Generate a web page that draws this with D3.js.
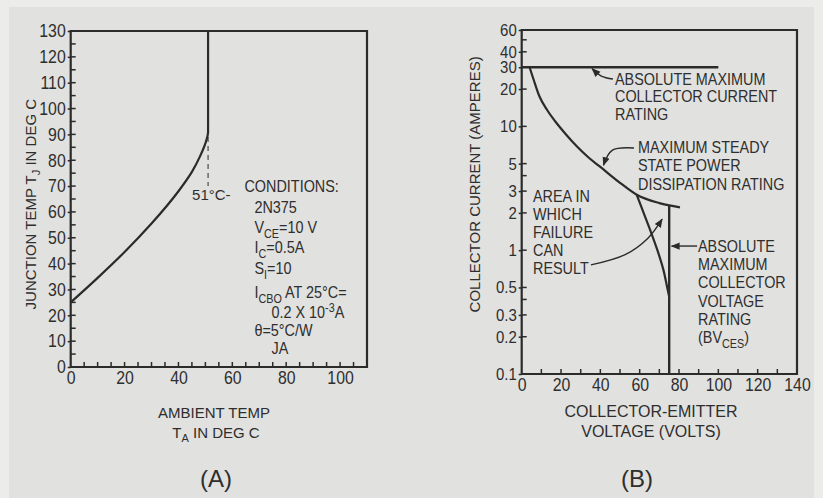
<!DOCTYPE html>
<html>
<head>
<meta charset="utf-8">
<script src="https://cdn.jsdelivr.net/npm/d3@7/dist/d3.min.js"></script>
<style>
  html, body { margin: 0; padding: 0; background: #ececea; }
  svg { display: block; }
  text { font-family: "Liberation Sans", Arial, sans-serif; fill: #2e2e2e; }
</style>
</head>
<body>
<svg id="chart" width="823" height="498"></svg>
<script>
// ---------- Panel A: junction temperature vs ambient temperature ----------
const ambientTicks = [0, 20, 40, 60, 80, 100];
const junctionTicks = [0, 10, 20, 30, 40, 50, 60, 70, 80, 90, 100, 110, 120, 130];
const ambientTemp = [0, 10, 20, 30, 40, 45, 48, 50, 51, 51];
const junctionTemp = [25, 34.5, 44.5, 55.5, 68, 75.5, 81.5, 86.5, 91, 130];
const runawayTemp = 51;           // marked ambient limit, deg C
const conditions = [
  [["CONDITIONS:"]],
  [["2N375"]],
  [["V"], ["CE", "sub"], ["=10 V"]],
  [["I"], ["C", "sub"], ["=0.5A"]],
  [["S"], ["I", "sub"], ["=10"]],
  [["I"], ["CBO", "sub"], [" AT 25°C="]],
  [["0.2 X 10"], ["-3", "sup"], ["A"]],
  [["θ=5°C/W"]],
  [["JA"]]
];

// ---------- Panel B: safe operating area ----------
const voltageTicks = [0, 20, 40, 60, 80, 100, 120, 140];
const currentTicks = [0.1, 0.2, 0.3, 0.5, 1, 2, 3, 5, 10, 20, 30, 40, 60];
const currentMinorTicks = [0.4, 4, 50];
const currentTickLabels = ["0.1", "0.2", "0.3", "0.5", "1", "2", "3", "5", "10", "20", "30", "40", "60"];
const maxCurrent = 30;            // A, absolute maximum collector current
const maxCurrentSpan = [0, 100];  // V, extent of the current-rating line
const powerVolts = [4, 6, 9, 13, 17, 22, 28, 34, 40, 50, 58.5, 70, 80.5];
const powerAmps = [30, 24, 17.5, 13.5, 11, 8.8, 6.9, 5.6, 4.7, 3.5, 2.8, 2.4, 2.22];
const failureVolts = [58.5, 62, 65.3, 69, 72, 74, 75];
const failureAmps = [2.8, 2.0, 1.46, 1.0, 0.7, 0.5, 0.42];
const bvCes = 75;                 // V, absolute maximum collector voltage
const bvCesTopAmps = 2.28;

const svg = d3.select("#chart");
const ink = "#2b2b2b";
const sxTick = 0.88;              // condensed tick lettering

// paper
svg.append("rect").attr("x", 0).attr("y", 0).attr("width", 823).attr("height", 498).attr("fill", "#ececea");
svg.append("rect").attr("x", 9).attr("y", 7).attr("width", 805).attr("height", 491).attr("fill", "#e1e1df");

// arrowhead marker
svg.append("defs").append("marker")
  .attr("id", "head").attr("viewBox", "0 0 10 10").attr("refX", 9).attr("refY", 5)
  .attr("markerWidth", 9).attr("markerHeight", 9).attr("markerUnits", "userSpaceOnUse")
  .attr("orient", "auto")
  .append("path").attr("d", "M0,1 L10,5 L0,9 Z").attr("fill", ink);

// multi-line text block with sub/superscript runs
function textBlock(parent, x, y, lines, opts) {
  const o = Object.assign({ size: 16, lead: 18, sx: 0.9, indents: [] }, opts || {});
  const g = parent.append("g").attr("transform", `translate(${x},${y}) scale(${o.sx},1)`);
  lines.forEach((runs, i) => {
    const t = g.append("text").attr("x", (o.indents[i] || 0) / o.sx)
      .attr("y", (o.baselines ? o.baselines[i] : i * o.lead)).attr("font-size", o.size);
    let shift = 0;
    runs.forEach(r => {
      const kind = r[1];
      const target = kind === "sub" ? o.size * 0.3 : kind === "sup" ? -o.size * 0.4 : 0;
      t.append("tspan").text(r[0]).attr("dy", target - shift)
        .attr("font-size", kind ? o.size * 0.75 : o.size);
      shift = target;
    });
  });
  return g;
}

// condense the labels of a left axis (anchor end) or bottom axis (anchor middle)
function condenseLeft(g, size) {
  g.selectAll("text").each(function () {
    const t = d3.select(this);
    const x = +t.attr("x");
    t.attr("x", x / sxTick).attr("transform", `scale(${sxTick},1)`)
      .attr("font-size", size).attr("fill", "#333").attr("font-family", null);
  });
}
function condenseBottom(g, size) {
  g.selectAll("text").attr("transform", `scale(${sxTick},1)`)
    .attr("font-size", size).attr("fill", "#333").attr("font-family", null);
}

// ================= Panel A =================
const xA = d3.scaleLinear().domain([0, 110]).range([70.7, 367]);
const yA = d3.scaleLinear().domain([0, 130]).range([367, 31]);

const gA = svg.append("g");
// frame
gA.append("path").attr("d", `M${xA(0)},${yA(0)} V${yA(130)} H${xA(110)} V${yA(0)} Z`)
  .attr("fill", "none").attr("stroke", ink).attr("stroke-width", 2.2);

// minor ticks every 5 deg
gA.append("g").selectAll("line").data(d3.range(5, 130, 5)).join("line")
  .attr("x1", xA(0)).attr("x2", xA(0) + 5).attr("y1", d => yA(d)).attr("y2", d => yA(d))
  .attr("stroke", ink).attr("stroke-width", 1.5);
gA.append("g").selectAll("line").data(d3.range(5, 110, 5)).join("line")
  .attr("x1", d => xA(d)).attr("x2", d => xA(d)).attr("y1", yA(0)).attr("y2", yA(0) - 5)
  .attr("stroke", ink).attr("stroke-width", 1.5);

const axisYA = d3.axisLeft(yA).tickValues(junctionTicks).tickSizeInner(3).tickSizeOuter(0).tickPadding(2);
gA.append("g").attr("transform", `translate(${xA(0)},0)`).call(axisYA)
  .call(g => g.select(".domain").remove())
  .call(g => g.selectAll("line").attr("stroke", ink).attr("stroke-width", 1.5))
  .call(g => condenseLeft(g, 18));

const axisXA = d3.axisBottom(xA).tickValues(ambientTicks).tickSize(0).tickPadding(4);
gA.append("g").attr("transform", `translate(0,${yA(0)})`).call(axisXA)
  .call(g => g.select(".domain").remove())
  .call(g => condenseBottom(g, 18));

// junction temperature curve
const lineA = d3.line().x((d, i) => xA(ambientTemp[i])).y((d, i) => yA(junctionTemp[i])).curve(d3.curveMonotoneY);
gA.append("path").datum(ambientTemp).attr("d", lineA)
  .attr("fill", "none").attr("stroke", ink).attr("stroke-width", 2.2);

// dashed marker at the runaway temperature
gA.append("line").attr("x1", xA(runawayTemp)).attr("x2", xA(runawayTemp))
  .attr("y1", yA(89)).attr("y2", yA(70)).attr("stroke", ink).attr("stroke-width", 1)
  .attr("stroke-dasharray", "5,4");
gA.append("text").attr("x", xA(runawayTemp) - 16).attr("y", yA(64.5)).attr("font-size", 15)
  .text(`${runawayTemp}°C-`);

// operating conditions
textBlock(gA, xA(64.5), 0, conditions, {
  size: 16, sx: 0.9,
  baselines: [192, 213, 233, 253, 274, 298, 318, 336, 354],
  indents: [0, 10, 10, 10, 10, 10, 27, 10, 27]
});

// axis titles
svg.append("text").attr("transform", `translate(36,${yA(63)}) rotate(-90)`)
  .attr("text-anchor", "middle").attr("font-size", 15)
  .call(t => { t.append("tspan").text("JUNCTION TEMP T");
               t.append("tspan").text("J").attr("font-size", 11).attr("dy", 4);
               t.append("tspan").text(" IN DEG C").attr("dy", -4); });
svg.append("text").attr("x", 214).attr("y", 418).attr("text-anchor", "middle").attr("font-size", 15)
  .text("AMBIENT TEMP");
svg.append("text").attr("x", 216).attr("y", 438).attr("text-anchor", "middle").attr("font-size", 15)
  .call(t => { t.append("tspan").text("T");
               t.append("tspan").text("A").attr("font-size", 11).attr("dy", 4);
               t.append("tspan").text(" IN DEG C").attr("dy", -4); });
svg.append("text").attr("x", 216).attr("y", 487).attr("text-anchor", "middle").attr("font-size", 24)
  .text("(A)");

// ================= Panel B =================
const xB = d3.scaleLinear().domain([0, 140]).range([521.7, 797]);
const yB = d3.scaleLog().domain([0.1, 60]).range([374, 30]);

const gB = svg.append("g");
gB.append("path").attr("d", `M${xB(0)},${yB(0.1)} V${yB(60)} H${xB(140)} V${yB(0.1)} Z`)
  .attr("fill", "none").attr("stroke", ink).attr("stroke-width", 2.2);

// ticks (inward)
gB.append("g").selectAll("line").data(currentTicks.concat(currentMinorTicks).filter(d => d > 0.1 && d < 60)).join("line")
  .attr("x1", xB(0)).attr("x2", xB(0) + 5).attr("y1", d => yB(d)).attr("y2", d => yB(d))
  .attr("stroke", ink).attr("stroke-width", 1.5);
gB.append("g").selectAll("line").data(d3.range(10, 140, 10)).join("line")
  .attr("x1", d => xB(d)).attr("x2", d => xB(d)).attr("y1", yB(0.1)).attr("y2", yB(0.1) - 5)
  .attr("stroke", ink).attr("stroke-width", 1.5);

const axisYB = d3.axisLeft(yB).tickValues(currentTicks).tickSizeInner(3).tickSizeOuter(0).tickPadding(2)
  .tickFormat((d, i) => currentTickLabels[i]);
gB.append("g").attr("transform", `translate(${xB(0)},0)`).call(axisYB)
  .call(g => g.select(".domain").remove())
  .call(g => g.selectAll("line").attr("stroke", ink).attr("stroke-width", 1.5))
  .call(g => condenseLeft(g, 17));

const axisXB = d3.axisBottom(xB).tickValues(voltageTicks).tickSize(0).tickPadding(4);
gB.append("g").attr("transform", `translate(0,${yB(0.1)})`).call(axisXB)
  .call(g => g.select(".domain").remove())
  .call(g => condenseBottom(g, 18));

// absolute maximum collector current
gB.append("line").attr("x1", xB(maxCurrentSpan[0])).attr("x2", xB(maxCurrentSpan[1]))
  .attr("y1", yB(maxCurrent)).attr("y2", yB(maxCurrent))
  .attr("stroke", ink).attr("stroke-width", 2.4);

// maximum steady-state power dissipation
const powerLine = d3.line().x((d, i) => xB(powerVolts[i])).y((d, i) => yB(powerAmps[i])).curve(d3.curveMonotoneX);
gB.append("path").datum(powerVolts).attr("d", powerLine)
  .attr("fill", "none").attr("stroke", ink).attr("stroke-width", 2.2);

// failure boundary
const failLine = d3.line().x((d, i) => xB(failureVolts[i])).y((d, i) => yB(failureAmps[i])).curve(d3.curveCatmullRom);
gB.append("path").datum(failureVolts).attr("d", failLine)
  .attr("fill", "none").attr("stroke", ink).attr("stroke-width", 2.2);

// absolute maximum collector voltage
gB.append("line").attr("x1", xB(bvCes)).attr("x2", xB(bvCes))
  .attr("y1", yB(0.1)).attr("y2", yB(bvCesTopAmps))
  .attr("stroke", ink).attr("stroke-width", 2.4);

// pointer arrows (voltage, current pairs)
const arrows = [
  [[46.4, 24.1], [40.5, 25.5], [35.8, 29.2]],
  [[57.1, 6.68], [46, 6.4], [41.6, 4.85]],
  [[35.2, 0.76], [52.6, 0.92], [64.2, 1.25], [71.4, 1.78]],
  [[89.2, 1.08], [76.2, 1.08]]
];
const arrowLine = d3.line().x(d => xB(d[0])).y(d => yB(d[1])).curve(d3.curveCatmullRom);
gB.append("g").selectAll("path").data(arrows).join("path")
  .attr("d", arrowLine).attr("fill", "none").attr("stroke", ink).attr("stroke-width", 1.4)
  .attr("marker-end", "url(#head)");

textBlock(gB, 615, 85, [[["ABSOLUTE MAXIMUM"]], [["COLLECTOR CURRENT"]], [["RATING"]]], { lead: 17.5 });
textBlock(gB, 638, 153, [[["MAXIMUM STEADY"]], [["STATE POWER"]], [["DISSIPATION RATING"]]], { lead: 18.5 });
textBlock(gB, 533, 202, [[["AREA IN"]], [["WHICH"]], [["FAILURE"]], [["CAN"]], [["RESULT"]]], { lead: 18 });
textBlock(gB, 698, 252, [[["ABSOLUTE"]], [["MAXIMUM"]], [["COLLECTOR"]], [["VOLTAGE"]], [["RATING"]],
  [["(BV"], ["CES", "sub"], [")"]]], { lead: 18.2 });

// axis titles
svg.append("text").attr("transform", `translate(480,${yB(3.4)}) rotate(-90)`)
  .attr("text-anchor", "middle").attr("font-size", 15)
  .text("COLLECTOR CURRENT (AMPERES)");
svg.append("text").attr("x", 651).attr("y", 417).attr("text-anchor", "middle").attr("font-size", 16)
  .text("COLLECTOR-EMITTER");
svg.append("text").attr("x", 651).attr("y", 437).attr("text-anchor", "middle").attr("font-size", 16)
  .text("VOLTAGE (VOLTS)");
svg.append("text").attr("x", 637).attr("y", 487).attr("text-anchor", "middle").attr("font-size", 24)
  .text("(B)");
</script>
</body>
</html>
